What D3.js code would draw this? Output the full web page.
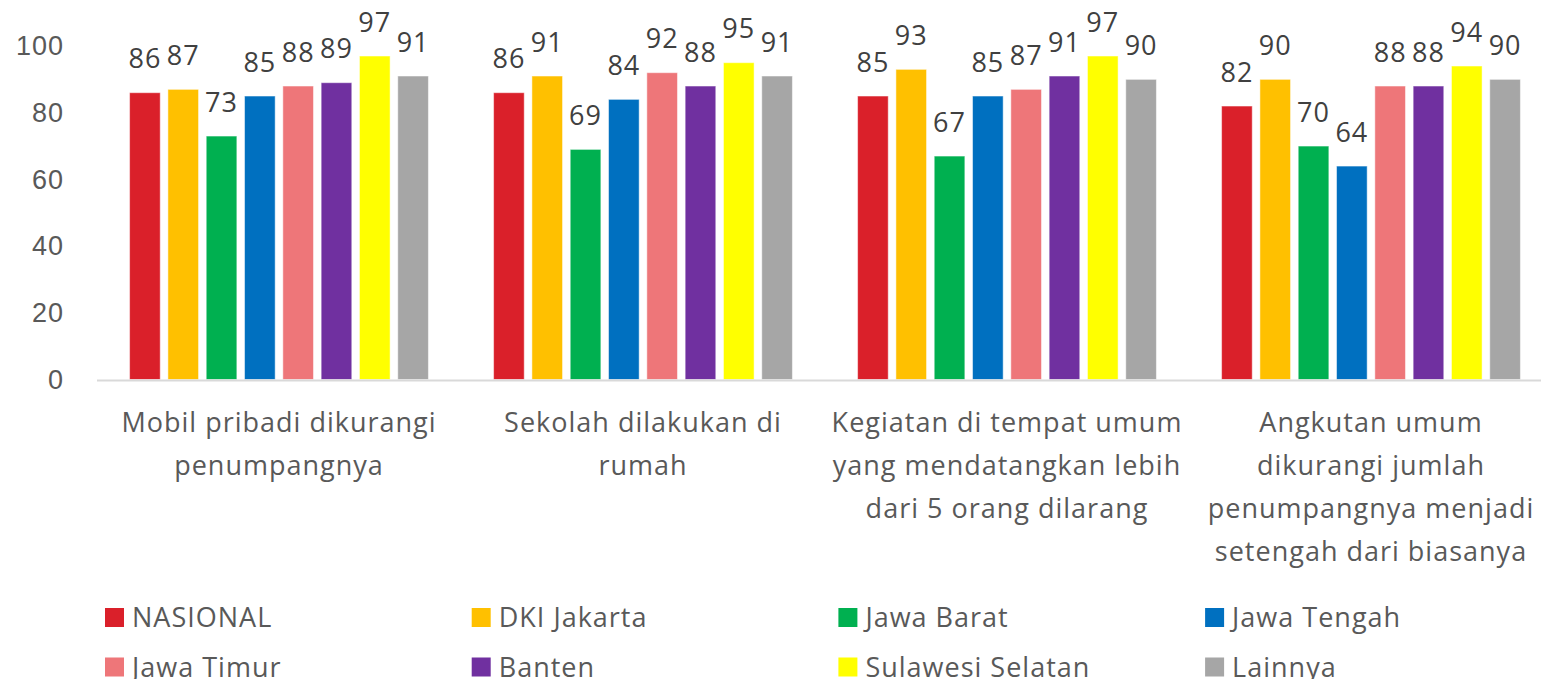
<!DOCTYPE html>
<html>
<head>
<meta charset="utf-8">
<script src="https://cdn.jsdelivr.net/npm/d3@7"></script>
<style>
  body { margin: 0; background: #fff; }
  svg { display: block; font-family: "Open Sans", sans-serif; letter-spacing: 1px; }
</style>
</head>
<body>
<div id="chart"></div>
<script>
var categories = [
  ["Mobil pribadi dikurangi", "penumpangnya"],
  ["Sekolah dilakukan di", "rumah"],
  ["Kegiatan di tempat umum", "yang mendatangkan lebih", "dari 5 orang dilarang"],
  ["Angkutan umum", "dikurangi jumlah", "penumpangnya menjadi", "setengah dari biasanya"]
];
var seriesNames = ["NASIONAL", "DKI Jakarta", "Jawa Barat", "Jawa Tengah", "Jawa Timur", "Banten", "Sulawesi Selatan", "Lainnya"];
var seriesColors = ["#da202a", "#ffc000", "#00b050", "#0070c0", "#ee7679", "#7030a0", "#ffff00", "#a6a6a6"];
var nasional   = [86, 86, 85, 82];
var dkiJakarta = [87, 91, 93, 90];
var jawaBarat  = [73, 69, 67, 70];
var jawaTengah = [85, 84, 85, 64];
var jawaTimur  = [88, 92, 87, 88];
var banten     = [89, 88, 91, 88];
var sulsel     = [97, 95, 97, 94];
var lainnya    = [91, 91, 90, 90];
var yTicks = [0, 20, 40, 60, 80, 100];

var seriesValues = [nasional, dkiJakarta, jawaBarat, jawaTengah, jawaTimur, banten, sulsel, lainnya];

var width = 1541, height = 679;
var svg = d3.select("#chart").append("svg")
  .attr("width", width)
  .attr("height", height);

var catIdx = categories.map(function(d, i){ return i; });

var x0 = d3.scaleBand()
  .domain(catIdx)
  .range([97, 1553])
  .paddingInner(0.158)
  .paddingOuter(0.079);

var x1 = d3.scaleBand()
  .domain(seriesNames)
  .range([0, x0.bandwidth()])
  .paddingInner(0.2)
  .paddingOuter(0.1);

var y = d3.scaleLinear()
  .domain([0, 100])
  .range([379.5, 46]);

// y axis labels
var yAxis = svg.append("g")
  .attr("transform", "translate(64,0)")
  .call(d3.axisLeft(y).tickValues(yTicks).tickSize(0).tickPadding(0));
yAxis.select(".domain").remove();
yAxis.selectAll("text")
  .attr("fill", "#595959")
  .style("font-size", "27px")
  .attr("dy", "0.32em");

// bars
var groups = svg.append("g").selectAll("g")
  .data(catIdx).enter().append("g")
  .attr("transform", function(c){ return "translate(" + x0(c) + ",0)"; });

groups.selectAll("rect")
  .data(function(c){
    return seriesNames.map(function(s, i){ return {name: s, i: i, value: seriesValues[i][c]}; });
  })
  .enter().append("rect")
  .attr("x", function(d){ return x1(d.name); })
  .attr("y", function(d){ return y(d.value); })
  .attr("width", x1.bandwidth())
  .attr("height", function(d){ return y(0) - y(d.value); })
  .attr("fill", function(d){ return seriesColors[d.i]; })
  .attr("stroke", "#ffffff")
  .attr("stroke-opacity", 0.5)
  .attr("stroke-width", 1);

groups.selectAll("text.lbl")
  .data(function(c){
    return seriesNames.map(function(s, i){ return {name: s, i: i, value: seriesValues[i][c]}; });
  })
  .enter().append("text")
  .attr("class", "lbl")
  .attr("x", function(d){ return x1(d.name) + x1.bandwidth() / 2; })
  .attr("y", function(d){ return y(d.value) - 24.5; })
  .attr("text-anchor", "middle")
  .attr("fill", "#404040")
  .style("font-size", "27px")
  .text(function(d){ return d.value; });

// baseline
svg.append("line")
  .attr("x1", 97).attr("x2", width)
  .attr("y1", y(0) + 1).attr("y2", y(0) + 1)
  .attr("stroke", "#d9d9d9")
  .attr("stroke-width", 2);

// category labels
var catLabels = svg.append("g").selectAll("text")
  .data(catIdx).enter().append("text")
  .attr("text-anchor", "middle")
  .attr("fill", "#595959")
  .style("font-size", "27px")
  .attr("x", function(c){ return x0(c) + x0.bandwidth() / 2; })
  .attr("y", 432);
catLabels.selectAll("tspan")
  .data(function(c){ return categories[c]; })
  .enter().append("tspan")
  .attr("x", function(){ var c = d3.select(this.parentNode).datum(); return x0(c) + x0.bandwidth() / 2; })
  .attr("dy", function(d, i){ return i === 0 ? 0 : 43; })
  .text(function(d){ return d; });

// legend
var legend = svg.append("g").selectAll("g")
  .data(seriesNames).enter().append("g")
  .attr("transform", function(d, i){
    return "translate(" + (105 + (i % 4) * 366.7) + "," + (608 + Math.floor(i / 4) * 49.5) + ")";
  });
legend.append("rect")
  .attr("width", 19).attr("height", 19)
  .attr("fill", function(d, i){ return seriesColors[i]; });
legend.append("text")
  .attr("x", 27).attr("y", 19)
  .attr("fill", "#595959")
  .style("font-size", "27px")
  .text(function(d){ return d; });
</script>
</body>
</html>
